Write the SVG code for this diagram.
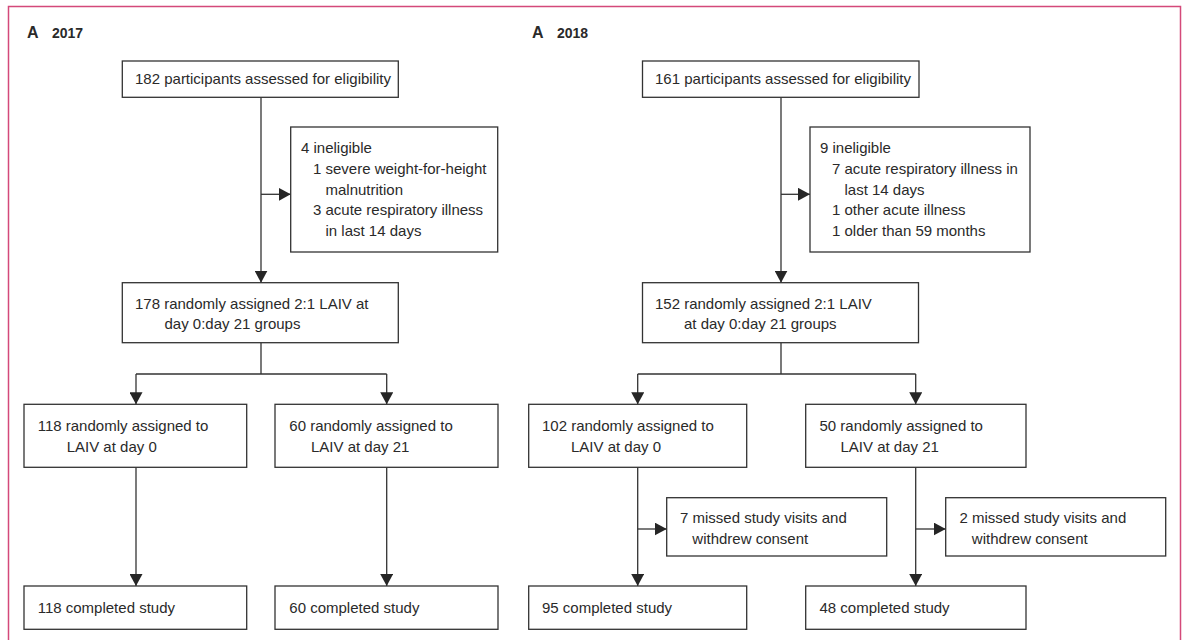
<svg xmlns="http://www.w3.org/2000/svg" width="1185" height="640" viewBox="0 0 1185 640">
  <style>
    .box { fill: #ffffff; stroke: #333333; stroke-width: 1.3; }
    .t { font-family: "Liberation Sans", Arial, sans-serif; font-size: 15px; fill: #2a2a2a; }
    .h { font-family: "Liberation Sans", Arial, sans-serif; font-size: 14px; font-weight: bold; fill: #2a2a2a; }
    .hA { font-family: "Liberation Sans", Arial, sans-serif; font-size: 16px; font-weight: bold; fill: #2a2a2a; }
    .c { fill: none; stroke: #333333; stroke-width: 1.3; }
    .a { fill: none; stroke: #333333; stroke-width: 1.3; marker-end: url(#arr); }
  </style>
  <defs>
    <marker id="arr" markerUnits="userSpaceOnUse" markerWidth="12" markerHeight="13" refX="12" refY="6.5" orient="auto">
      <path d="M0,0 L12,6.5 L0,13 Z" fill="#262626"/>
    </marker>
  </defs>
  <rect width="1185" height="640" fill="#ffffff"/>
  <path d="M8.5,641 V6.5 H1180.5 V641" fill="none" stroke="#d4497a" stroke-width="1.5"/>

  <g id="titles">
    <text class="hA" x="27" y="38">A</text>
    <text class="h" x="52" y="38">2017</text>
    <text class="hA" x="532" y="38">A</text>
    <text class="h" x="557" y="38">2018</text>
  </g>

  <g id="connectors">
    <path class="a" d="M261,97.3 V282.7"/>
    <path class="a" d="M261,194.3 H290.7"/>
    <path class="c" d="M261,342.7 V374 M136,374 H386.7"/>
    <path class="a" d="M136,374 V404.3"/>
    <path class="a" d="M386.7,374 V404.3"/>
    <path class="a" d="M136,467.3 V586"/>
    <path class="a" d="M386.7,467.3 V586"/>

    <path class="a" d="M781,97.3 V282.7"/>
    <path class="a" d="M781,194.3 H810"/>
    <path class="c" d="M781,342.7 V374 M637.7,374 H915.7"/>
    <path class="a" d="M637.7,374 V404.3"/>
    <path class="a" d="M915.7,374 V404.3"/>
    <path class="a" d="M637.7,467.3 V586"/>
    <path class="a" d="M637.7,529 H666.7"/>
    <path class="a" d="M915.7,467.3 V586"/>
    <path class="a" d="M915.7,529 H945.7"/>
  </g>

  <g id="n182">
    <rect class="box" x="122.3" y="61" width="276" height="36.3"/>
    <text class="t" x="135" y="84">182 participants assessed for eligibility</text>
  </g>
  <g id="inelig2017">
    <rect class="box" x="290.7" y="127" width="207" height="125"/>
    <text class="t" x="301" y="153">4 ineligible</text>
    <text class="t" x="313" y="174">1 severe weight-for-height</text>
    <text class="t" x="325.5" y="194.7">malnutrition</text>
    <text class="t" x="313" y="215.3">3 acute respiratory illness</text>
    <text class="t" x="325.5" y="236">in last 14 days</text>
  </g>
  <g id="n178">
    <rect class="box" x="122.3" y="282.7" width="276" height="60"/>
    <text class="t" x="135" y="308.5">178 randomly assigned 2:1 LAIV at</text>
    <text class="t" x="164.5" y="329.2">day 0:day 21 groups</text>
  </g>
  <g id="n118">
    <rect class="box" x="24" y="404.3" width="222.7" height="63"/>
    <text class="t" x="37.7" y="430.7">118 randomly assigned to</text>
    <text class="t" x="66.7" y="451.5">LAIV at day 0</text>
  </g>
  <g id="n60">
    <rect class="box" x="275" y="404.3" width="223" height="63"/>
    <text class="t" x="289.3" y="430.7">60 randomly assigned to</text>
    <text class="t" x="311" y="451.5">LAIV at day 21</text>
  </g>
  <g id="c118">
    <rect class="box" x="24" y="586" width="222.7" height="43.3"/>
    <text class="t" x="37.7" y="612.7">118 completed study</text>
  </g>
  <g id="c60">
    <rect class="box" x="275" y="586" width="223" height="43.3"/>
    <text class="t" x="289.3" y="612.7">60 completed study</text>
  </g>

  <g id="n161">
    <rect class="box" x="642.5" y="61" width="276.5" height="36.3"/>
    <text class="t" x="655" y="84">161 participants assessed for eligibility</text>
  </g>
  <g id="inelig2018">
    <rect class="box" x="810" y="127" width="220" height="125"/>
    <text class="t" x="820" y="153">9 ineligible</text>
    <text class="t" x="832" y="174">7 acute respiratory illness in</text>
    <text class="t" x="844.5" y="194.7">last 14 days</text>
    <text class="t" x="832" y="215.3">1 other acute illness</text>
    <text class="t" x="832" y="236">1 older than 59 months</text>
  </g>
  <g id="n152">
    <rect class="box" x="642.5" y="282.7" width="276" height="60"/>
    <text class="t" x="655" y="308.5">152 randomly assigned 2:1 LAIV</text>
    <text class="t" x="684" y="329.2">at day 0:day 21 groups</text>
  </g>
  <g id="n102">
    <rect class="box" x="528.7" y="404.3" width="218" height="63"/>
    <text class="t" x="542" y="430.7">102 randomly assigned to</text>
    <text class="t" x="571" y="451.5">LAIV at day 0</text>
  </g>
  <g id="n50">
    <rect class="box" x="805.7" y="404.3" width="220.3" height="63"/>
    <text class="t" x="819.5" y="430.7">50 randomly assigned to</text>
    <text class="t" x="840.5" y="451.5">LAIV at day 21</text>
  </g>
  <g id="w7">
    <rect class="box" x="666.7" y="497.7" width="220" height="58.3"/>
    <text class="t" x="680" y="523.3">7 missed study visits and</text>
    <text class="t" x="692.3" y="544.3">withdrew consent</text>
  </g>
  <g id="w2">
    <rect class="box" x="945.7" y="497.7" width="220" height="58.3"/>
    <text class="t" x="959.5" y="523.3">2 missed study visits and</text>
    <text class="t" x="971.8" y="544.3">withdrew consent</text>
  </g>
  <g id="c95">
    <rect class="box" x="528.7" y="586" width="218" height="43.3"/>
    <text class="t" x="542" y="612.7">95 completed study</text>
  </g>
  <g id="c48">
    <rect class="box" x="805.7" y="586" width="220.3" height="43.3"/>
    <text class="t" x="819.5" y="612.7">48 completed study</text>
  </g>
</svg>
